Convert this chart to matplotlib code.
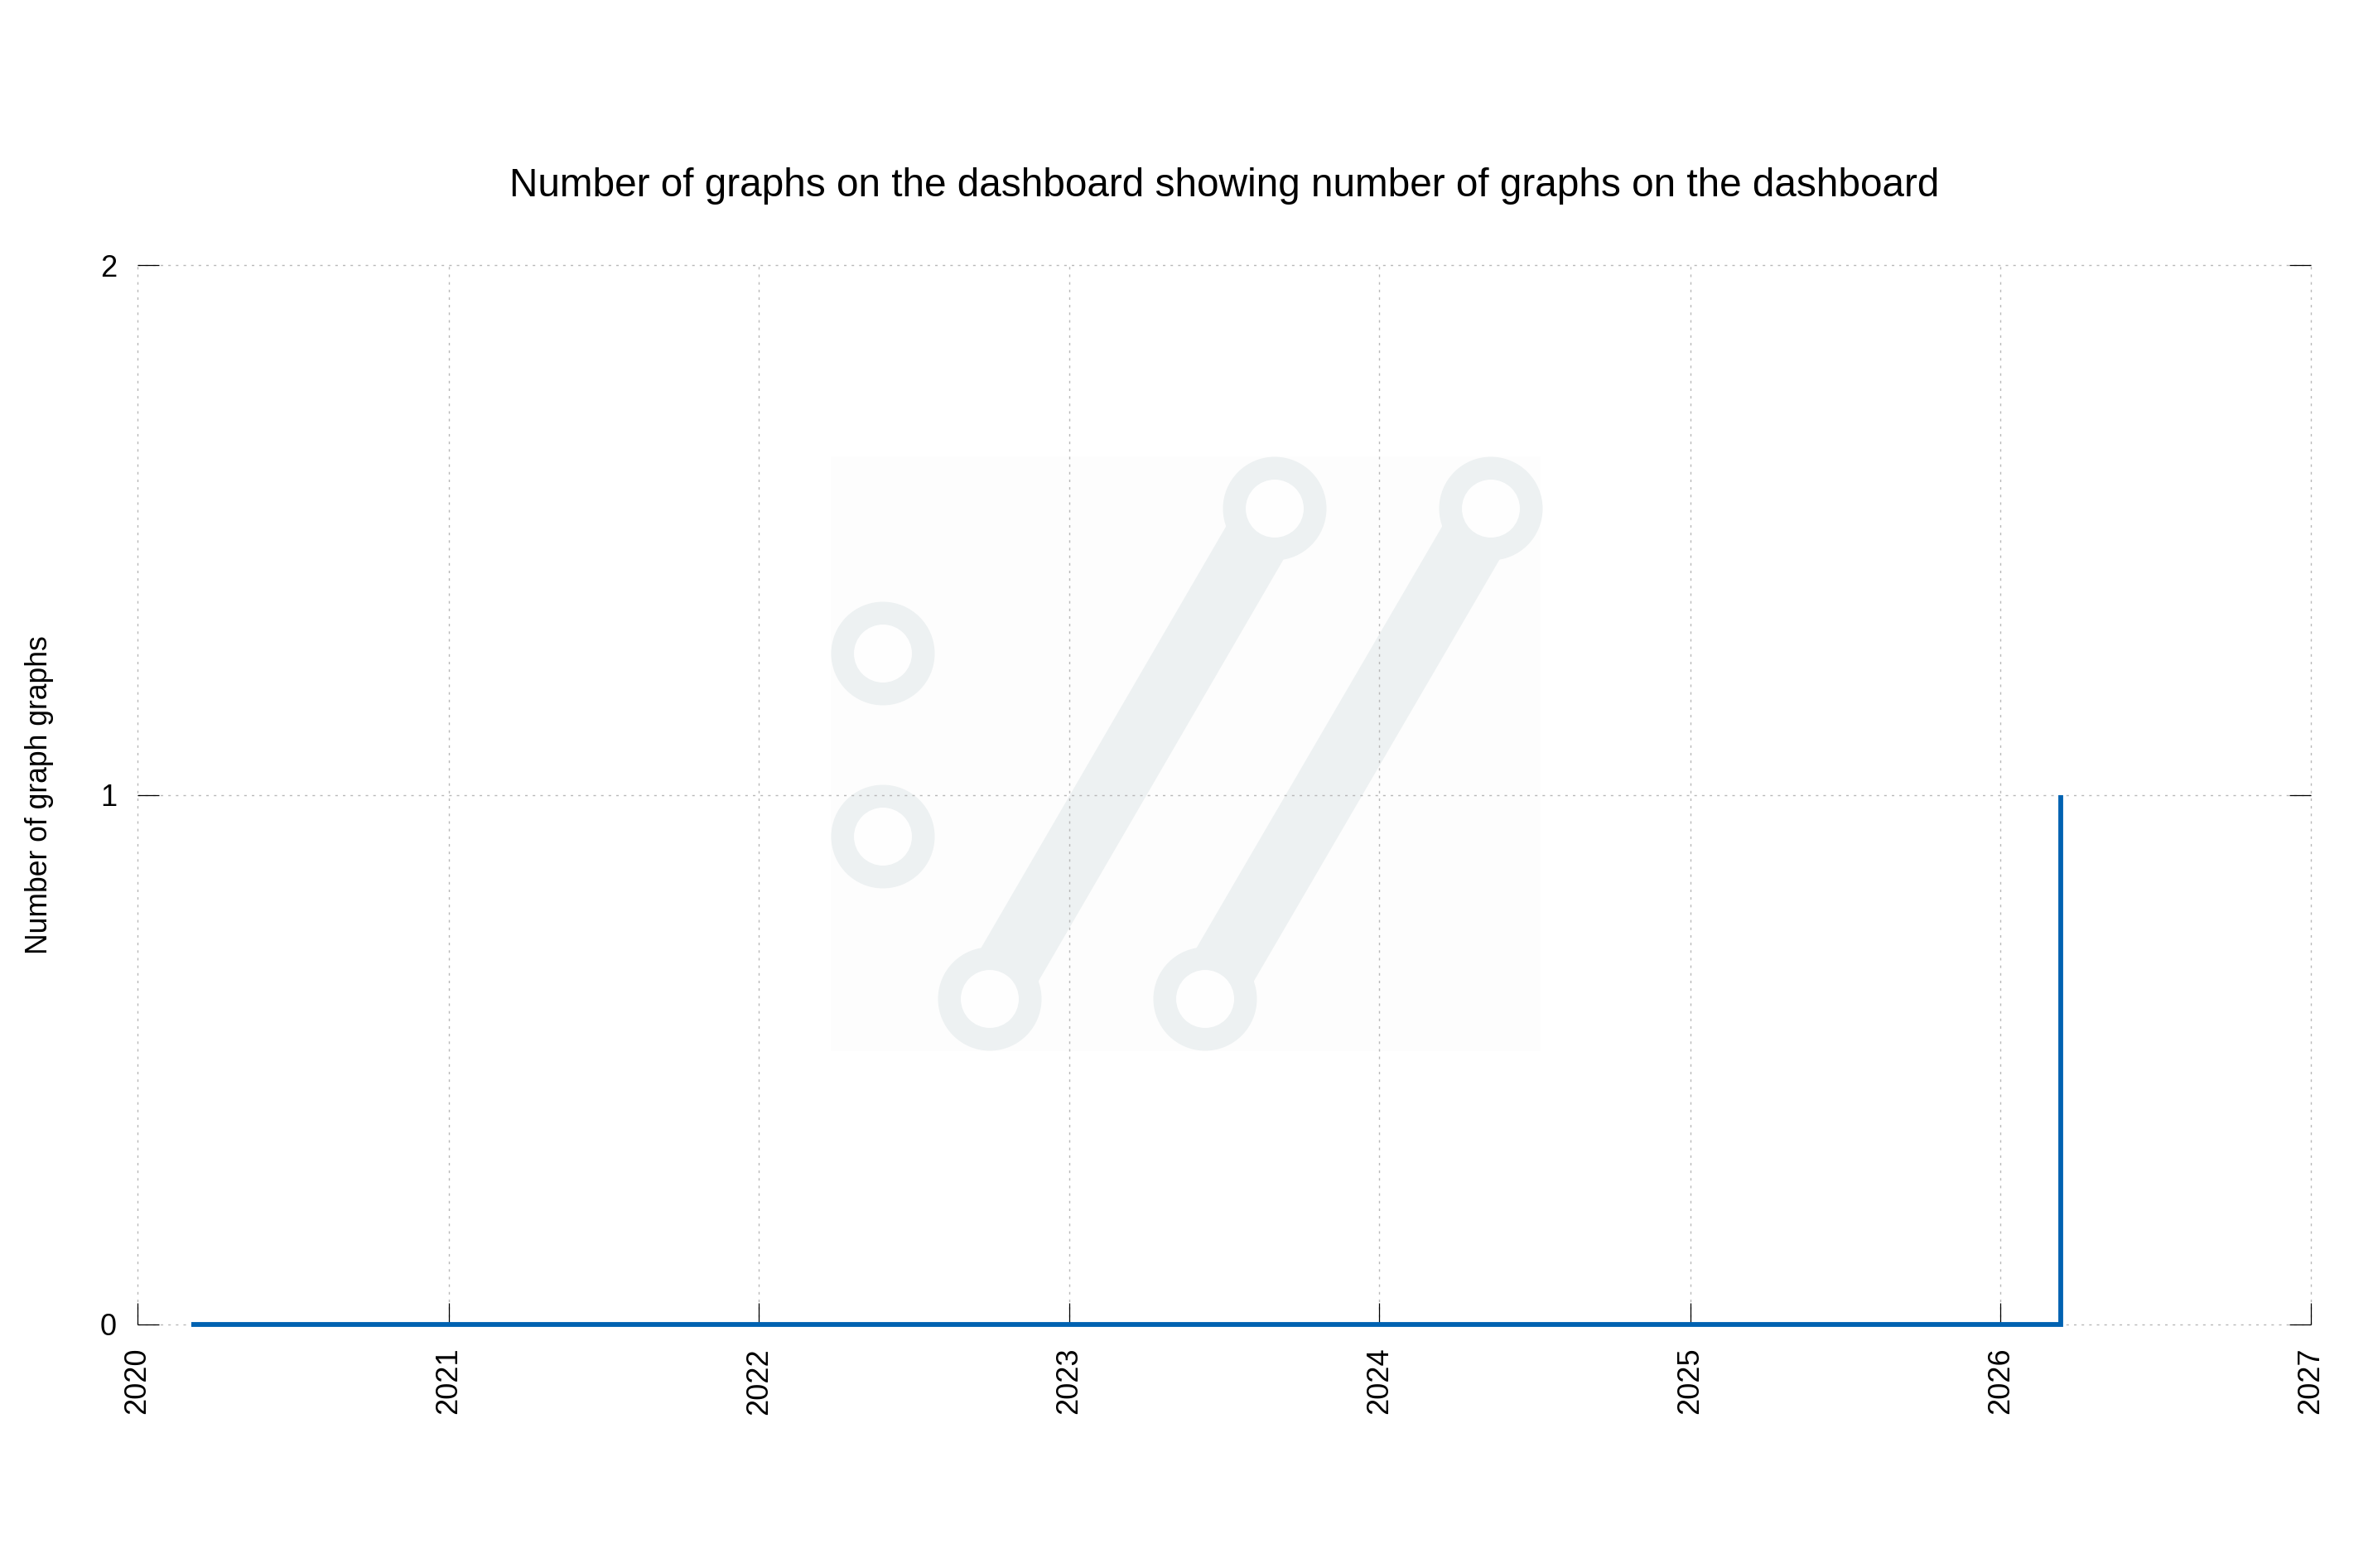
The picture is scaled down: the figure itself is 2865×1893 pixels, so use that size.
import matplotlib
matplotlib.use("Agg")
import matplotlib.pyplot as plt
import matplotlib.dates as mdates
import matplotlib.transforms as mtransforms
from matplotlib.patches import Circle, Polygon, Rectangle
import numpy as np
import pandas as pd

# ---- data ----
times = pd.to_datetime(["2020-03-04", "2026-03-13"])
values = [0, 1]
title = "Number of graphs on the dashboard showing number of graphs on the dashboard"
ylabel = "Number of graph graphs"
yticks = [0, 1, 2]
x_start, x_end = "2020-01-01", "2027-01-01"

W, H, DPI = 2865, 1893, 200
plt.rcParams['font.family'] = ['Liberation Sans', 'DejaVu Sans']

fig = plt.figure(figsize=(W / DPI, H / DPI), dpi=DPI)
ax = fig.add_axes([166 / W, 1 - 1599 / H, (2790 - 166) / W, (1599 - 320) / H])

# ---- watermark logo (decoration, pixel coordinates) ----
ident = mtransforms.IdentityTransform()
def P(x, y):
    return (x, H - y)

ring_c = '#edf1f2'
bg_c = '#fdfdfd'
hole_c = '#fefefe'
ax.add_patch(Rectangle(P(1003, 1269), 857, 718, transform=ident, facecolor=bg_c,
                       edgecolor='none', zorder=0.2, clip_on=False))
bars = [((1195, 1206), (1539, 614)), ((1455, 1206), (1800, 614))]
for (a, b) in bars:
    a = np.array(a, float); b = np.array(b, float)
    d = b - a; d /= np.hypot(*d)
    n = np.array([d[1], -d[0]]) * 40
    pts = [P(*(a + n)), P(*(b + n)), P(*(b - n)), P(*(a - n))]
    ax.add_patch(Polygon(pts, closed=True, transform=ident, facecolor=ring_c,
                         edgecolor='none', zorder=0.3, clip_on=False))
centers = [(1066, 789), (1066, 1010), (1195, 1206), (1455, 1206), (1539, 614), (1800, 614)]
for c in centers:
    ax.add_patch(Circle(P(*c), 62.5, transform=ident, facecolor=ring_c,
                        edgecolor='none', zorder=0.4, clip_on=False))
    ax.add_patch(Circle(P(*c), 35, transform=ident, facecolor=hole_c,
                        edgecolor='none', zorder=0.5, clip_on=False))

# ---- data line ----
ax.plot(times, values, drawstyle='steps-post', color='#0062b1', linewidth=2.1,
        solid_joinstyle='miter', solid_capstyle='butt', zorder=3, clip_on=False)

ax.set_xlim(pd.Timestamp(x_start), pd.Timestamp(x_end))
ax.set_ylim(0, 2)
ax.set_yticks(yticks)
ax.xaxis.set_major_locator(mdates.YearLocator())
ax.xaxis.set_major_formatter(mdates.DateFormatter('%Y'))

for s in ax.spines.values():
    s.set_visible(False)

# dotted grid at every tick, unclipped so edge lines show fully
grid_kw = dict(color='#b8b8b8', linewidth=0.5, linestyle=(0, (2.2, 4.4)),
               zorder=1.5, clip_on=False)
for xv in ax.get_xticks():
    ax.axvline(xv, **grid_kw)
for yv in yticks:
    ax.axhline(yv, **grid_kw)

ax.tick_params(axis='y', direction='in', length=9.4, width=0.45, color='black',
               left=True, right=True, labelsize=13, pad=9)
ax.tick_params(axis='x', direction='in', length=9.4, width=0.45, color='black',
               bottom=True, top=False, labelsize=13, pad=10, labelrotation=90)

ax.set_title(title, fontsize=17.2, pad=30)
ax.set_ylabel(ylabel, fontsize=12.8, labelpad=20)

fig.savefig("out.png", dpi=DPI, facecolor='white')
